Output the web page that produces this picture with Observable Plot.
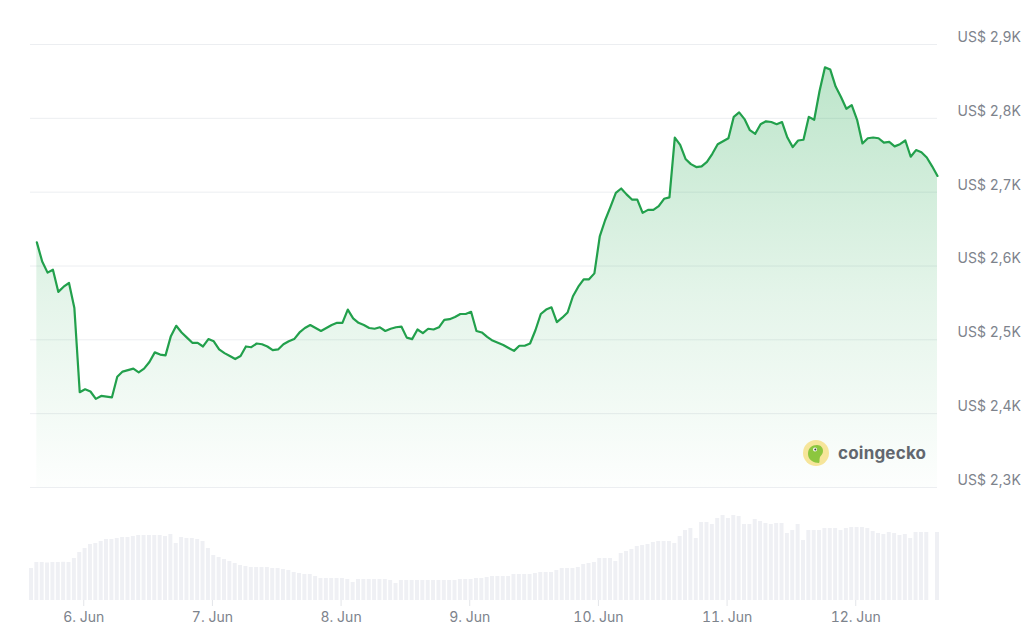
<!DOCTYPE html>
<html><head><meta charset="utf-8">
<script src="https://cdn.jsdelivr.net/npm/d3@7"></script>
<script src="https://cdn.jsdelivr.net/npm/@observablehq/plot@0.6"></script>
<style>
body{margin:0;background:#fff;font-family:Inter,"Noto Sans",sans-serif;}
#wrap{position:relative;width:1024px;height:635px;overflow:hidden;background:#fff}
#price{position:absolute;left:0;top:0}
#vol{position:absolute;left:0;top:500px}
#brand{position:absolute;left:803px;top:440px;height:26px;display:flex;align-items:center;gap:9px;font-weight:700;font-size:17px;color:#62676e;font-family:Inter,sans-serif;letter-spacing:0.2px}
#brand svg{display:block}
</style></head><body>
<div id="wrap">
  <div id="price"></div>
  <div id="vol"></div>
  <div id="brand"><svg width="26" height="26" viewBox="0 0 26 26"><circle cx="13" cy="13" r="13" fill="#f6e59a"/><path d="M5 14 C5 8 9 5 14 5 C18 5 20 8 20 11 C20 14 18 15 17 17 C16 20 17 22 16 23 C11 23 5 20 5 14 Z" fill="#8cc63f"/><circle cx="12" cy="9.5" r="2" fill="#fff"/><circle cx="12.3" cy="9.5" r="1" fill="#3a3a3a"/></svg><span>coingecko</span></div>
</div>
<script>
// ---- data ----
const priceStart = "2025-06-05T15:15:00Z";   // hourly samples
const prices = [
2632,2606,2591,2595,2565,2572,2577,2543,2429,2433,
2430,2420,2424,2423,2422,2450,2457,2459,2461,2456,
2461,2470,2483,2480,2479,2505,2519,2510,2503,2496,
2496,2491,2501,2498,2487,2482,2478,2474,2478,2491,
2490,2495,2494,2491,2486,2487,2494,2498,2501,2510,
2516,2520,2516,2512,2516,2520,2523,2523,2541,2529,
2523,2520,2516,2515,2517,2512,2515,2517,2518,2503,
2501,2514,2509,2515,2514,2517,2527,2528,2531,2535,
2535,2538,2512,2510,2504,2499,2496,2493,2489,2485,
2492,2492,2495,2513,2535,2541,2544,2524,2530,2537,
2559,2572,2582,2582,2590,2640,2662,2680,2699,2705,
2697,2690,2690,2672,2676,2676,2681,2691,2693,2774,
2764,2745,2738,2734,2735,2741,2752,2765,2769,2773,
2802,2808,2799,2784,2779,2792,2796,2795,2792,2795,
2774,2761,2770,2771,2802,2798,2837,2869,2866,2843,
2829,2813,2818,2798,2766,2773,2774,2773,2767,2768,
2762,2765,2770,2748,2757,2754,2747,2735,2722
];
const volumeStart = "2025-06-05T14:15:00Z";  // hourly bars
const volumes = [
320,380,380,375,380,380,382,380,420,480,
520,560,570,590,610,610,620,630,630,640,
650,650,650,650,650,640,660,570,630,620,
620,610,590,520,450,430,410,390,370,350,
340,330,330,330,330,320,320,310,300,280,
270,260,260,240,220,220,220,220,220,210,
180,210,210,210,210,210,210,200,170,200,
200,200,200,200,200,200,200,200,200,200,
210,210,210,220,220,230,240,240,240,240,
260,260,260,260,270,280,280,280,300,320,
320,320,330,360,370,380,420,420,420,390,
470,490,510,540,550,560,580,590,590,590,
570,640,700,720,620,780,780,760,820,850,
820,850,840,760,760,810,790,770,760,770,
770,670,700,760,600,700,700,700,720,720,
720,700,720,730,730,730,720,690,670,660,
680,670,650,660,620,680,680,680,0,680
];
const yTicks = [2300, 2400, 2500, 2600, 2700, 2800, 2900];
const xTicks = ["2025-06-06", "2025-06-07", "2025-06-08", "2025-06-09", "2025-06-10", "2025-06-11", "2025-06-12"];
const xDomain = ["2025-06-05T14:04:00Z", "2025-06-12T15:15:00Z"];

// ---- build ----
const HOUR = 3600e3;
const priceData = prices.map((p, i) => ({t: new Date(+new Date(priceStart) + i * HOUR), p}));
const volData = volumes.map((v, i) => ({t: new Date(+new Date(volumeStart) + i * HOUR), v}));
const dom = xDomain.map(d => new Date(d));
const fontFamily = "Inter, 'Noto Sans', sans-serif";
const textColor = "#7d838c";

const defs = () => {
  const d = d3.create("svg:defs");
  const g = d.append("linearGradient").attr("id", "areaGrad").attr("x1", 0).attr("y1", 0).attr("x2", 0).attr("y2", 1);
  g.append("stop").attr("offset", "0%").attr("stop-color", "#22a84f").attr("stop-opacity", 0.30);
  g.append("stop").attr("offset", "55%").attr("stop-color", "#22a84f").attr("stop-opacity", 0.12);
  g.append("stop").attr("offset", "100%").attr("stop-color", "#22a84f").attr("stop-opacity", 0.01);
  return d.node();
};

const priceChart = Plot.plot({
  width: 1024, height: 500,
  marginTop: 44, marginBottom: 13, marginLeft: 30, marginRight: 87,
  style: {fontFamily, fontSize: "14px", background: "transparent", color: textColor},
  x: {type: "utc", domain: dom, axis: null},
  y: {domain: [2300, 2900], axis: null},
  marks: [
    defs,
    Plot.gridY(yTicks, {stroke: "#eceef1", strokeOpacity: 1}),
    Plot.areaY(priceData, {x: "t", y1: 2300, y2: "p", fill: "url(#areaGrad)"}),
    Plot.lineY(priceData, {x: "t", y: "p", stroke: "#22a04c", strokeWidth: 2.2}),
    Plot.axisY(yTicks, {anchor: "right", tickSize: 0, tickPadding: 20, textAnchor: "start", dy: -7,
      fill: textColor, fontSize: 14, label: null,
      tickFormat: d => "US$ " + (d / 1000).toFixed(1).replace(".", ",") + "K"})
  ]
});
document.getElementById("price").appendChild(priceChart);

const volChart = Plot.plot({
  width: 1024, height: 135,
  marginTop: 0, marginBottom: 35, marginLeft: 30, marginRight: 87,
  style: {fontFamily, fontSize: "14px", background: "transparent", color: textColor},
  x: {type: "utc", domain: dom},
  y: {domain: [0, 1000], axis: null},
  marks: [
    Plot.rectY(volData, {x1: d => new Date(+d.t - HOUR / 2), x2: d => new Date(+d.t + HOUR / 2), y: "v",
      fill: "#eff0f4", insetLeft: 0.7, insetRight: 0.7}),
    Plot.axisX(xTicks.map(d => new Date(d)), {anchor: "bottom", tickSize: 6, tickPadding: 6,
      stroke: "#e3e5e9", fill: textColor, fontSize: 14, label: null,
      tickFormat: d3.utcFormat("%-d. %b")})
  ]
});
document.getElementById("vol").appendChild(volChart);
</script>
</body></html>
